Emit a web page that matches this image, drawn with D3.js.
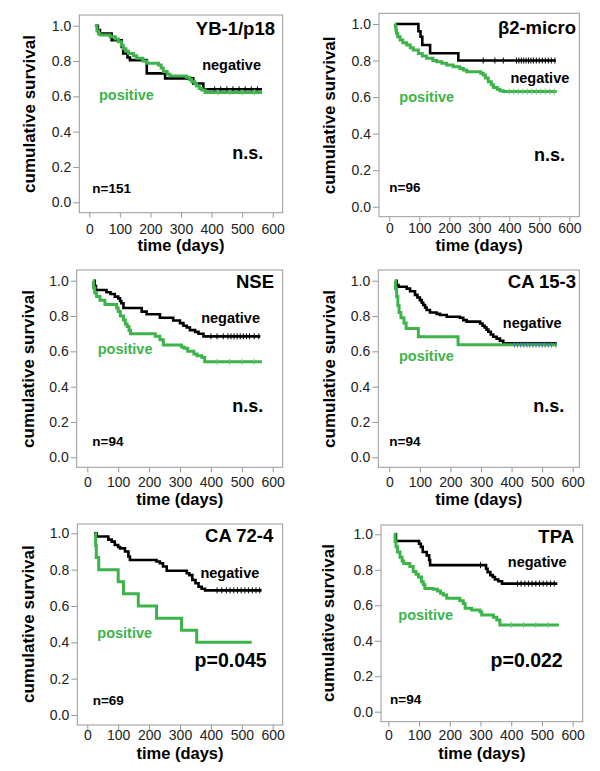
<!DOCTYPE html>
<html><head><meta charset="utf-8">
<script src="https://cdn.jsdelivr.net/npm/d3@7"></script>
<style>body{margin:0;background:#fff}svg{display:block}text{font-family:"Liberation Sans",Arial,Helvetica,sans-serif}</style>
</head><body><svg id="c" width="600" height="771"></svg>
<script>
// ---------- data ----------
const xTicks = [0, 100, 200, 300, 400, 500, 600];
const yTicks = [0.0, 0.2, 0.4, 0.6, 0.8, 1.0];
const panelTitles = ["YB-1/p18", "β2-micro", "NSE", "CA 15-3", "CA 72-4", "TPA"];
const panelN = ["n=151", "n=96", "n=94", "n=94", "n=69", "n=94"];
const panelP = ["n.s.", "n.s.", "n.s.", "n.s.", "p=0.045", "p=0.022"];

// step points: [day, survival after the step]
const ybNeg = [[20,1.0],[28,0.975],[35,0.956],[73,0.918],[106,0.88],[111,0.843],[125,0.82],[133,0.805],[188,0.73],[248,0.702],[340,0.673],[373,0.64]];
const ybPos = [[18,1.0],[25,0.97],[30,0.955],[35,0.947],[68,0.938],[85,0.925],[95,0.909],[105,0.89],[111,0.87],[120,0.855],[128,0.843],[145,0.83],[155,0.815],[175,0.80],[188,0.787],[226,0.777],[235,0.76],[242,0.74],[255,0.725],[264,0.715],[318,0.708],[328,0.695],[335,0.683],[345,0.67],[351,0.658],[360,0.645],[368,0.636],[379,0.622]];
const b2Neg = [[20,1.0],[97,0.96],[104,0.93],[110,0.885],[136,0.84],[230,0.80]];
const b2Pos = [[18,1.0],[20,0.985],[22,0.967],[24,0.949],[28,0.93],[36,0.912],[45,0.898],[58,0.885],[70,0.87],[80,0.858],[97,0.839],[110,0.825],[124,0.812],[145,0.80],[158,0.794],[175,0.785],[191,0.776],[213,0.766],[235,0.757],[247,0.748],[258,0.739],[305,0.73],[313,0.721],[320,0.705],[330,0.684],[340,0.668],[347,0.653],[360,0.643],[369,0.635],[380,0.63]];
const nseNeg = [[20,1.0],[24,0.97],[28,0.947],[62,0.935],[75,0.925],[89,0.91],[100,0.9],[106,0.885],[110,0.872],[117,0.845],[176,0.825],[192,0.81],[235,0.79],[278,0.775],[300,0.76],[311,0.745],[322,0.735],[332,0.72],[349,0.71],[360,0.70],[376,0.685]];
const nsePos = [[18,1.0],[20,0.96],[24,0.93],[30,0.91],[41,0.89],[57,0.865],[95,0.845],[100,0.825],[107,0.80],[117,0.777],[123,0.755],[129,0.74],[135,0.72],[140,0.70],[220,0.685],[235,0.665],[246,0.636],[305,0.625],[313,0.617],[325,0.60],[345,0.585],[355,0.575],[371,0.565],[380,0.541]];
const ca15Neg = [[20,1.0],[24,0.975],[30,0.966],[57,0.955],[68,0.94],[84,0.92],[92,0.905],[100,0.89],[106,0.875],[111,0.862],[117,0.848],[122,0.834],[133,0.82],[155,0.812],[166,0.806],[188,0.796],[231,0.79],[242,0.777],[253,0.768],[297,0.758],[305,0.745],[312,0.735],[318,0.723],[324,0.711],[332,0.695],[340,0.683],[351,0.672],[362,0.66],[373,0.645]];
const ca15Pos = [[18,1.0],[20,0.955],[24,0.91],[28,0.86],[32,0.82],[38,0.79],[48,0.76],[55,0.73],[95,0.683],[225,0.638]];
const ca72Neg = [[22,1.0],[30,0.982],[68,0.965],[79,0.954],[89,0.936],[100,0.925],[106,0.917],[122,0.9],[133,0.872],[138,0.853],[224,0.845],[235,0.835],[245,0.817],[257,0.794],[322,0.78],[330,0.77],[340,0.743],[350,0.725],[360,0.706],[370,0.695],[381,0.686]];
const ca72Pos = [[25,1.0],[27,0.933],[29,0.867],[37,0.8],[100,0.733],[117,0.667],[165,0.6],[224,0.533],[305,0.467],[354,0.4]];
const tpaNeg = [[20,1.0],[25,0.962],[100,0.947],[106,0.929],[112,0.9],[125,0.881],[133,0.855],[136,0.826],[318,0.806],[323,0.787],[332,0.77],[340,0.759],[347,0.745],[358,0.735],[370,0.722]];
const tpaPos = [[18,1.0],[22,0.96],[25,0.93],[30,0.9],[38,0.87],[45,0.85],[50,0.836],[70,0.818],[81,0.79],[90,0.775],[98,0.76],[108,0.733],[114,0.715],[119,0.695],[146,0.69],[160,0.68],[170,0.668],[179,0.658],[190,0.64],[233,0.625],[244,0.61],[250,0.583],[271,0.573],[298,0.564],[304,0.545],[342,0.532],[353,0.517],[363,0.489]];

const negEnd = [565, 555, 560, 548, 564, 550];
const posEnd = [565, 558, 565, 548, 532, 555];

// censoring marks (days)
const ybNegCens = [410, 430, 450, 470, 490, 510, 530, 550];
const ybPosCens = [420, 460, 500, 540];
const b2NegCens = [313, 352, 380, 424, 432, 440, 448, 456, 464, 472, 480, 490, 500, 510, 520, 530, 540, 552];
const b2PosCens = [400, 415, 430, 445, 460, 475, 490, 505, 520, 535, 550];
const nseNegCens = [400, 420, 440, 455, 465, 475, 485, 495, 505, 515, 525, 540, 555];
const nsePosCens = [420, 460, 500, 540];
const ca15NegCens = [];
const ca15PosCens = [410, 420, 430, 440, 450, 460, 470, 480, 490, 500, 510, 520, 530, 545];
const ca72NegCens = [420, 435, 450, 462, 474, 486, 498, 510, 522, 534, 546, 558];
const ca72PosCens = [];
const tpaNegCens = [300, 420, 432, 444, 456, 468, 480, 492, 504, 516, 528, 540];
const tpaPosCens = [400, 440, 480, 520];

const negSeries = [ybNeg, b2Neg, nseNeg, ca15Neg, ca72Neg, tpaNeg];
const posSeries = [ybPos, b2Pos, nsePos, ca15Pos, ca72Pos, tpaPos];
const negCens = [ybNegCens, b2NegCens, nseNegCens, ca15NegCens, ca72NegCens, tpaNegCens];
const posCens = [ybPosCens, b2PosCens, nsePosCens, ca15PosCens, ca72PosCens, tpaPosCens];

// ---------- layout ----------
const layout = [
  {box:[79.3,15,282.7,212.7], xr:[89.3,272.7], yr:[202.3,25.7], yl:35, title:[275,35], neg:[261,70], pos:[99,100], p:[263.3,159.3], n:[92.3,192.7], tick:234, xt:251},
  {box:[379,13.3,579.3,216.7], xr:[389.3,569.3], yr:[206.7,24], yl:335, title:[576,34.3], neg:[569.3,82.7], pos:[399.3,101.7], p:[565,161], n:[389.3,192.3], tick:233.5, xt:251},
  {box:[76.7,270,282.7,467.3], xr:[87.3,272.7], yr:[457.3,280.7], yl:33.5, title:[274,288.3], neg:[260,323.3], pos:[97.7,354.3], p:[263.3,412.3], n:[92.3,445.7], tick:487, xt:505},
  {box:[378.3,270,579.3,467.3], xr:[389.3,572.7], yr:[457.3,280.7], yl:335, title:[576,288.3], neg:[561.7,328.3], pos:[399,361], p:[564.3,412.3], n:[389.3,445.7], tick:487, xt:505},
  {box:[77.3,524,282.7,725], xr:[87.3,272.7], yr:[715,533.3], yl:33.5, title:[273.3,541.7], neg:[259.3,578.3], pos:[97.3,638.3], p:[266.7,666.7], n:[92.7,705], tick:740, xt:759},
  {box:[381,525,582.7,721.7], xr:[388.3,572.7], yr:[711.7,534.3], yl:333.5, title:[574,543.3], neg:[566.7,566.7], pos:[398.3,620], p:[562.7,666.7], n:[390,704], tick:740, xt:759}
];

const GREEN = "#3cb44a";
const svg = d3.select("#c");

// survival value of a step curve at a given day
const valueAt = (pts, day) => {
  let v = pts[0][1];
  for (const p of pts) { if (p[0] <= day) v = p[1]; else break; }
  return v;
};

layout.forEach((L, i) => {
  const g = svg.append("g");
  const x = d3.scaleLinear().domain([0, 600]).range(L.xr);
  const y = d3.scaleLinear().domain([0, 1]).range(L.yr);
  const [bl, bt, br, bb] = L.box;

  g.append("rect").attr("x", bl).attr("y", bt).attr("width", br - bl).attr("height", bb - bt)
    .attr("fill", "none").attr("stroke", "#999").attr("stroke-width", 1);

  // x axis
  const xa = g.append("g").attr("transform", `translate(0,${bb})`)
    .call(d3.axisBottom(x).tickValues(xTicks).tickSize(5).tickFormat(d3.format("d")));
  xa.select(".domain").remove();
  xa.selectAll("line").attr("stroke", "#999");
  xa.selectAll("text").attr("font-size", 14).attr("fill", "#222").attr("dy", null)
    .attr("y", L.tick - bb);

  // y axis
  const ya = g.append("g").attr("transform", `translate(${bl},0)`)
    .call(d3.axisLeft(y).tickValues(yTicks).tickSize(6).tickFormat(d3.format(".1f")));
  ya.select(".domain").remove();
  ya.selectAll("line").attr("stroke", "#999");
  ya.selectAll("text").attr("font-size", 14).attr("fill", "#222").attr("x", -8);

  // axis titles
  g.append("text").attr("x", (bl + br) / 2).attr("y", L.xt).attr("text-anchor", "middle")
    .attr("font-size", 16.5).attr("font-weight", "bold").text("time (days)");
  const cy = (L.yr[0] + L.yr[1]) / 2;
  g.append("text").attr("transform", `translate(${L.yl},${cy}) rotate(-90)`).attr("text-anchor", "middle")
    .attr("font-size", 17).attr("font-weight", "bold").text("cumulative survival");

  const line = d3.line().x(d => x(d[0])).y(d => y(d[1])).curve(d3.curveStepAfter);

  const drawCurve = (pts, end, cens, color, w, censColor) => {
    const all = pts.concat([[end, pts[pts.length - 1][1]]]);
    g.append("path").attr("d", line(all)).attr("fill", "none").attr("stroke", color)
      .attr("stroke-width", w).attr("stroke-linejoin", "miter");
    g.selectAll(null).data(cens).enter().append("line")
      .attr("x1", d => x(d)).attr("x2", d => x(d))
      .attr("y1", d => y(valueAt(pts, d)) - 3).attr("y2", d => y(valueAt(pts, d)) + 3)
      .attr("stroke", censColor || color).attr("stroke-width", 1);
  };
  drawCurve(negSeries[i], negEnd[i], negCens[i], "#000", 2.6);
  drawCurve(posSeries[i], posEnd[i], posCens[i], GREEN, 3, i === 3 ? "#4f6fb8" : "#6cc870");

  // labels
  g.append("text").attr("x", L.title[0]).attr("y", L.title[1]).attr("text-anchor", "end")
    .attr("font-size", 18.5).attr("font-weight", "bold").text(panelTitles[i]);
  g.append("text").attr("x", L.neg[0]).attr("y", L.neg[1]).attr("text-anchor", "end")
    .attr("font-size", 14.5).attr("font-weight", "bold").text("negative");
  g.append("text").attr("x", L.pos[0]).attr("y", L.pos[1]).attr("fill", GREEN)
    .attr("font-size", 14.5).attr("font-weight", "bold").text("positive");
  g.append("text").attr("x", L.p[0]).attr("y", L.p[1]).attr("text-anchor", "end")
    .attr("font-size", i >= 4 ? 19.5 : 18).attr("font-weight", "bold").text(panelP[i]);
  g.append("text").attr("x", L.n[0]).attr("y", L.n[1])
    .attr("font-size", 13.5).attr("font-weight", "bold").text(panelN[i]);
});
</script></body></html>
